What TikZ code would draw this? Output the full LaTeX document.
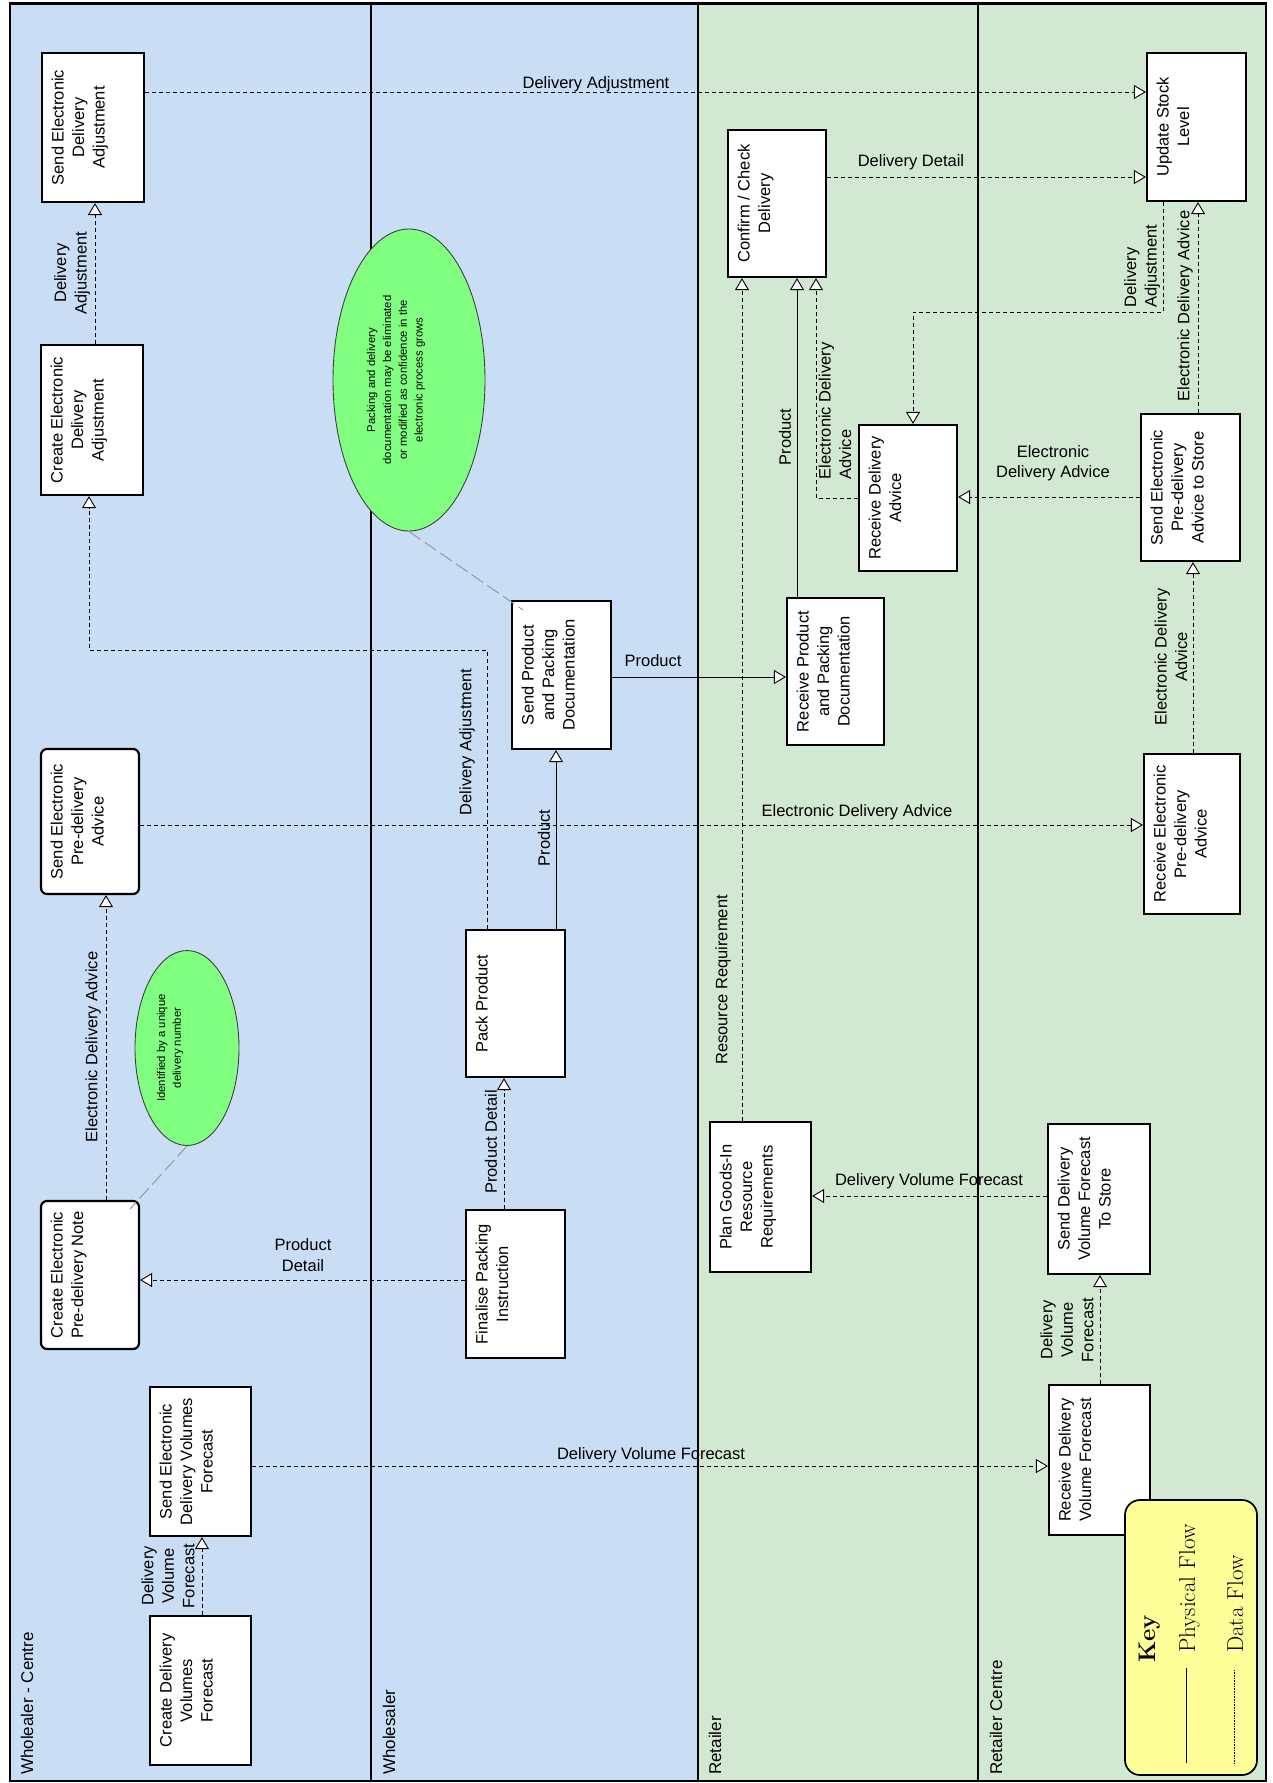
\documentclass[tikz,border=0pt]{standalone}
\usepackage{fontspec}
\setsansfont{Liberation Sans}
\usetikzlibrary{arrows.meta,shapes.geometric,calc}
\definecolor{laneblue}{RGB}{201,222,245}
\definecolor{lanegreen}{RGB}{211,232,211}
\definecolor{notegreen}{RGB}{128,255,128}
\definecolor{keyyellow}{RGB}{255,255,153}
\newcommand{\bxt}[3]{\parbox[c][#1][t]{#2}{\centering\rule{0pt}{21.5pt}#3\par}}
\begin{document}
\begin{tikzpicture}[x=1pt,y=-1pt,
  proc/.style={draw, line width=2.2pt, fill=white, rotate=90, inner sep=0pt,
    font=\sffamily\fontsize{16.5}{20.5}\selectfont},
  rproc/.style={proc, rounded corners=6pt},
  lbl/.style={inner sep=0pt, align=center, font=\sffamily\fontsize{16.5}{20.5}\selectfont},
  rlbl/.style={lbl, rotate=90},
  lanelbl/.style={inner sep=0pt, rotate=90, anchor=base west,
    font=\sffamily\fontsize{17}{20}\selectfont},
  tip/.style={-{Triangle[length=12pt,width=14pt,fill=white]}},
  data/.style={tip, line width=0.9pt, dash pattern=on 4pt off 3pt},
  phys/.style={tip, line width=0.9pt},
  note/.style={ellipse, draw=black!75, line width=0.9pt, fill=notegreen, rotate=90, inner sep=0pt},
  notetxt/.style={rotate=90, inner sep=0pt, align=center,
    font=\sffamily\fontsize{11.3}{15.8}\selectfont},
  callout/.style={draw=black!40, line width=1pt, dash pattern=on 14pt off 5pt},
]
\useasboundingbox (0,0) rectangle (1272,1783);
% lanes
\fill[laneblue] (10,3.5) rectangle (698,1781);
\fill[lanegreen] (698,3.5) rectangle (1266,1781);
\draw[line width=2.2pt] (371,3.5) -- (371,1781);
\draw[line width=2.2pt] (698,3.5) -- (698,1781);
\draw[line width=2.2pt] (978,3.5) -- (978,1781);
\draw[line width=2.6pt] (10,3.5) rectangle (1266,1781);
\node[lanelbl] (lane1) at (33,1775) {Wholealer - Centre};
\node[lanelbl] (lane2) at (395,1775) {Wholesaler};
\node[lanelbl] (lane3) at (721,1775) {Retailer};
\node[lanelbl] (lane4) at (1002,1775) {Retailer Centre};

% notes
\node[note, minimum width=195pt, minimum height=104pt] (e1) at (187,1048) {};
\node[notetxt] (e1t) at (170,1048) {Identified by a unique\\delivery number};
\node[note, minimum width=302pt, minimum height=152pt] (e2) at (409,380) {};
\node[notetxt] (e2t) at (396,380) {Packing and delivery\\documentation may be eliminated\\or modified as confidence in the\\electronic process grows};

% process boxes
\node[proc] (sea) at (93,127.5) {\bxt{102pt}{149pt}{Send Electronic\\Delivery\\Adjustment}};
\node[proc] (cea) at (92,420) {\bxt{102pt}{150pt}{Create Electronic\\Delivery\\Adjustment}};
\node[rproc] (sepa) at (90,821.5) {\bxt{98pt}{145pt}{Send Electronic\\Pre-delivery\\Advice}};
\node[rproc] (cepn) at (90,1275) {\bxt{98pt}{148pt}{Create Electronic\\Pre-delivery Note}};
\node[proc] (sedvf) at (200.5,1461.5) {\bxt{101pt}{149pt}{Send Electronic\\Delivery Volumes\\Forecast}};
\node[proc] (cdvf) at (200.5,1690.5) {\bxt{101pt}{149pt}{Create Delivery\\Volumes\\Forecast}};
\node[proc] (sppd) at (561.5,675) {\bxt{99pt}{148pt}{Send Product\\and Packing\\Documentation}};
\node[proc] (pp) at (515.5,1003.5) {\bxt{99pt}{147pt}{Pack Product}};
\node[proc] (fpi) at (515.5,1284) {\bxt{99pt}{148pt}{Finalise Packing\\Instruction}};
\node[proc] (ccd) at (777,203.5) {\bxt{98pt}{147pt}{Confirm / Check\\Delivery}};
\node[proc] (rppd) at (835.5,671.5) {\bxt{97pt}{147pt}{Receive Product\\and Packing\\Documentation}};
\node[proc] (pgir) at (760.5,1197) {\bxt{101pt}{150pt}{Plan Goods-In\\Resource\\Requirements}};
\node[proc] (rda) at (908,498) {\bxt{98pt}{146pt}{Receive Delivery\\Advice}};
\node[proc] (usl) at (1196.5,127) {\bxt{99pt}{148pt}{Update Stock\\Level}};
\node[proc] (sepas) at (1190.5,487.5) {\bxt{99pt}{147pt}{Send Electronic\\Pre-delivery\\Advice to Store}};
\node[proc] (repa) at (1192,834) {\bxt{96pt}{160pt}{Receive Electronic\\Pre-delivery\\Advice}};
\node[proc] (sdvfs) at (1099,1199) {\bxt{102pt}{150pt}{Send Delivery\\Volume Forecast\\To Store}};
\node[proc] (rdvf) at (1099.5,1460) {\bxt{101pt}{150pt}{Receive Delivery\\Volume Forecast}};

% callout lines
\draw[callout] (e1.west) -- ($(cepn.south east)+(-10,9)$);
\draw[callout] (e2.west) -- ($(sppd.north east)+(12,10)$);

% bend points
\coordinate (hb1) at (1163,312);
\coordinate (hb2) at (913,312);
\coordinate (pb1) at (487,650);
\coordinate (pb2) at (89,650);

% connectors
\draw[data] (cdvf.east -| 202,0) -- (sedvf.west -| 202,0);
\draw[data] (sedvf.south |- 0,1466) -- (rdvf.north |- 0,1466);
\draw[data] (rdvf.east -| 1100,0) -- (sdvfs.west -| 1100,0);
\draw[data] (sdvfs.north |- 0,1196) -- (pgir.south |- 0,1196);
\draw[data] (pgir.east -| 742,0) -- (ccd.west -| 742,0);
\draw[phys] (rppd.east -| 797,0) -- (ccd.west -| 797,0);
\draw[data] (rda.north |- 0,498) -| (ccd.west -| 816,0);
\draw[data] (usl.west -| hb1) -- (hb1) -- (hb2) -- (rda.east -| hb2);
\draw[data] (sepas.east -| 1198,0) -- (usl.west -| 1198,0);
\draw[data] (sepas.north |- 0,497) -- (rda.south |- 0,497);
\draw[data] (repa.east -| 1193,0) -- (sepas.west -| 1193,0);
\draw[data] (sepa.south |- 0,825) -- (repa.north |- 0,825);
\draw[data] (sea.south |- 0,92) -- (usl.north |- 0,92);
\draw[data] (ccd.south |- 0,177) -- (usl.north |- 0,177);
\draw[data] (cea.east -| 95,0) -- (sea.west -| 95,0);
\draw[data] (pp.east -| pb1) -- (pb1) -- (pb2) -- (cea.west -| pb2);
\draw[phys] (pp.east -| 556,0) -- (sppd.west -| 556,0);
\draw[phys] (sppd.south |- 0,677) -- (rppd.north |- 0,677);
\draw[data] (fpi.east -| 504,0) -- (pp.west -| 504,0);
\draw[data] (fpi.north |- 0,1280) -- (cepn.south |- 0,1280);
\draw[data] (cepn.east -| 106,0) -- (sepa.west -| 106,0);

% connector labels
\node[rlbl] (lA) at (168,1576) {Delivery\\Volume\\Forecast};
\node[lbl] (lB) at (651,1455) {Delivery Volume Forecast};
\node[rlbl] (lC) at (1067,1330) {Delivery\\Volume\\Forecast};
\node[lbl] (lD) at (929,1181) {Delivery Volume Forecast};
\node[rlbl] (lE) at (723,980) {Resource Requirement};
\node[rlbl] (lF) at (785,437) {Product};
\node[rlbl, align=left] (lG) at (835,411) {Electronic Delivery\\Advice};
\node[rlbl, align=left] (lH) at (1142,266) {Delivery\\Adjustment};
\node[rlbl] (lI) at (1185,306) {Electronic Delivery Advice};
\node[lbl] (lJ) at (1053,463) {Electronic\\Delivery Advice};
\node[rlbl] (lK) at (1171,657) {Electronic Delivery\\Advice};
\node[lbl] (lL) at (857,812) {Electronic Delivery Advice};
\node[lbl] (lM) at (596,84) {Delivery Adjustment};
\node[lbl] (lN) at (911,162) {Delivery Detail};
\node[rlbl] (lO) at (72,273) {Delivery\\Adjustment};
\node[rlbl] (lP) at (467,742) {Delivery Adjustment};
\node[rlbl] (lQ) at (544,838) {Product};
\node[lbl] (lR) at (653,661) {Product};
\node[rlbl] (lS) at (491,1142) {Product Detail};
\node[lbl] (lT) at (303,1255) {Product\\Detail};
\node[rlbl] (lU) at (93,1047) {Electronic Delivery Advice};

% key
\node[draw, line width=1.7pt, fill=keyyellow, rounded corners=15pt,
  minimum width=132pt, minimum height=275pt, inner sep=0pt] (key) at (1191,1637.5) {};
\node[rotate=90, anchor=base west, inner sep=0pt, font=\bfseries\fontsize{24}{28}\selectfont] (keyt) at (1155,1663) {Key};
\node[rotate=90, anchor=base west, inner sep=0pt, font=\fontsize{23}{27}\selectfont] (kphys) at (1195,1653) {Physical Flow};
\node[rotate=90, anchor=base west, inner sep=0pt, font=\fontsize{23}{27}\selectfont] (kdata) at (1243,1653) {Data Flow};
\coordinate (ks1) at (1186,1668);
\coordinate (ks2) at (1186,1763);
\coordinate (kd1) at (1234,1670);
\coordinate (kd2) at (1234,1763);
\draw[line width=1pt] (ks1) -- (ks2);
\draw[line width=0.6pt, dash pattern=on 0.8pt off 0.8pt] (kd1) -- (kd2);
\end{tikzpicture}
\end{document}
